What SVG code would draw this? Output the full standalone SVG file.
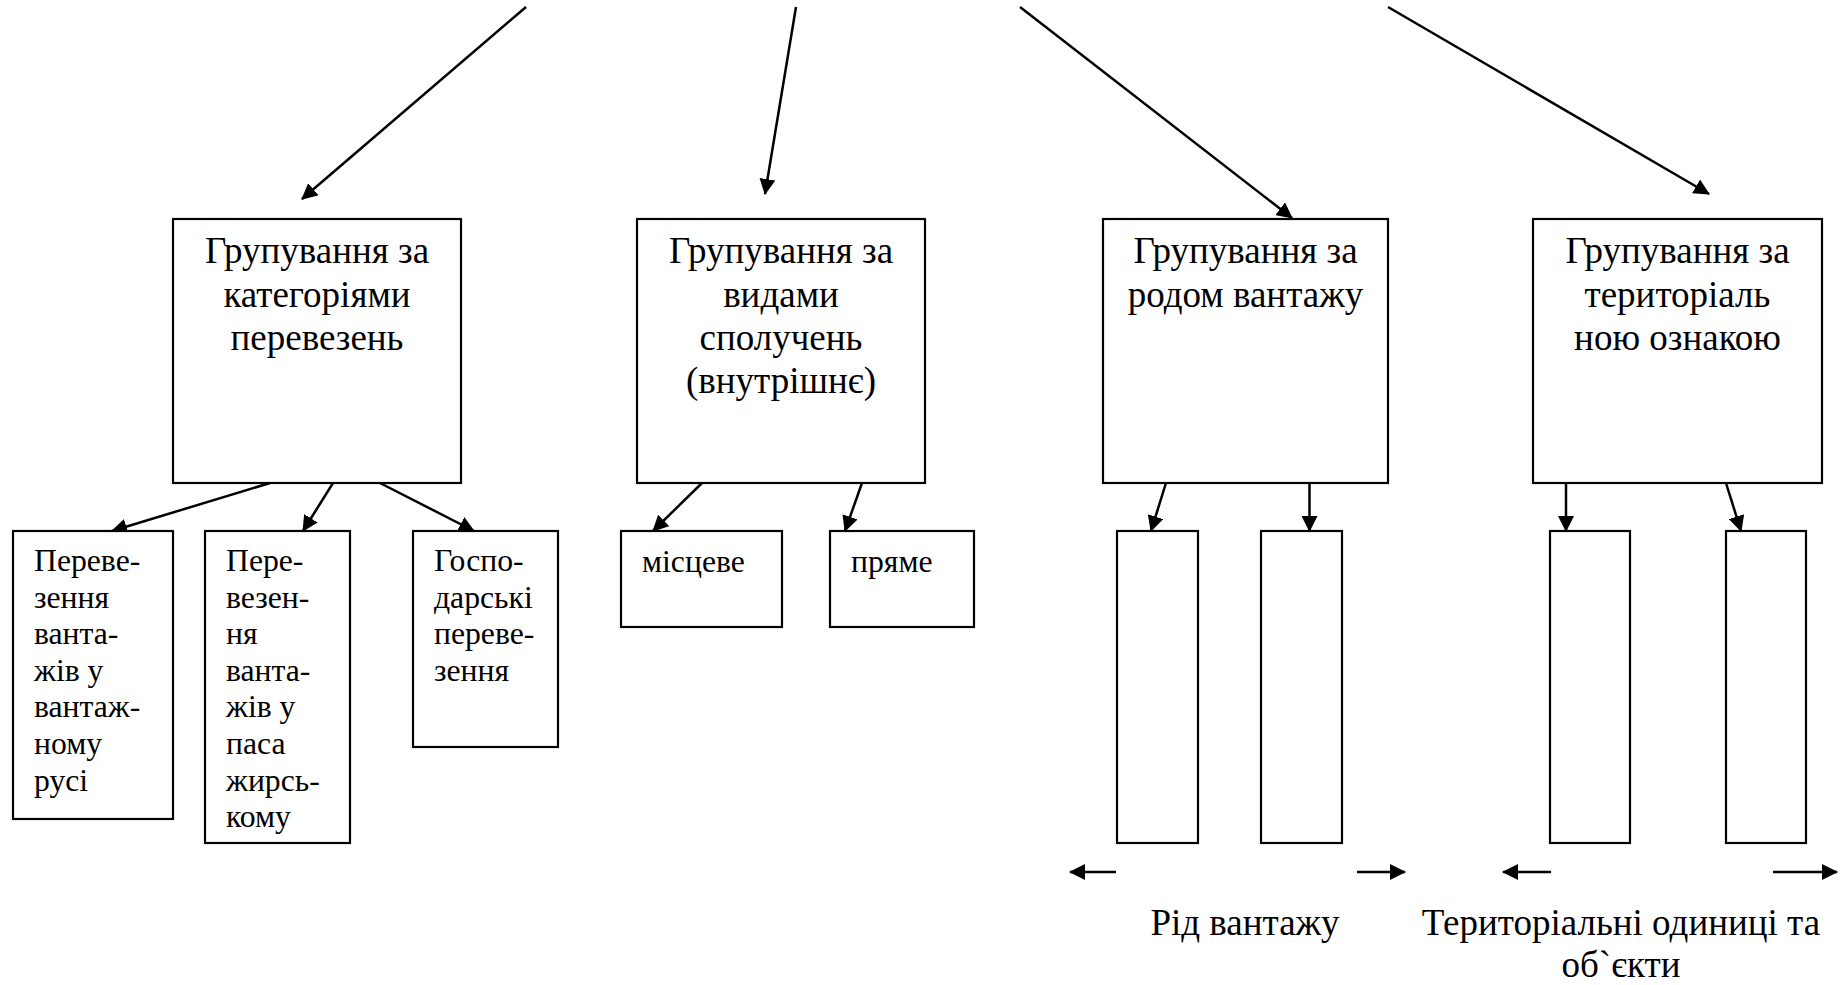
<svg xmlns="http://www.w3.org/2000/svg" width="1845" height="985" viewBox="0 0 1845 985">
<style>
.bx{fill:#fff;stroke:#000;stroke-width:2.2}
.c line{stroke:#000;stroke-width:2.5;marker-end:url(#ah)}
.big{font-size:37px;text-anchor:middle}
.sm{font-size:31.7px}
</style>
<defs>
<marker id="ah" viewBox="0 0 16 16" markerWidth="16" markerHeight="16" refX="15" refY="8" orient="auto" markerUnits="userSpaceOnUse">
<path d="M0,0 L16,8 L0,16 z" fill="#000"/>
</marker>
</defs>
<rect width="1845" height="985" fill="#fff"/>
<g class="c" id="connectors">
<line x1="526" y1="7" x2="302" y2="199"/>
<line x1="796" y1="7" x2="765" y2="194"/>
<line x1="1020" y1="7" x2="1292" y2="218"/>
<line x1="1388" y1="7" x2="1709" y2="194"/>
<line x1="270" y1="483" x2="112" y2="531"/>
<line x1="333" y1="483" x2="303" y2="531"/>
<line x1="380" y1="483" x2="474" y2="531"/>
<line x1="702" y1="483" x2="653" y2="531"/>
<line x1="862" y1="483" x2="845" y2="531"/>
<line x1="1166" y1="483" x2="1151" y2="531"/>
<line x1="1309.5" y1="483" x2="1309.5" y2="531"/>
<line x1="1566" y1="483" x2="1566" y2="531"/>
<line x1="1726" y1="483" x2="1741" y2="531"/>
<line x1="1116" y1="872" x2="1070" y2="872"/>
<line x1="1357" y1="872" x2="1405" y2="872"/>
<line x1="1551" y1="872" x2="1503" y2="872"/>
<line x1="1773" y1="872" x2="1837" y2="872"/>
</g>
<g font-family="Liberation Serif, Times New Roman, serif" fill="#000">
<g id="b1"><rect class="bx" x="173" y="219" width="288" height="264"/>
<text class="big" x="317" y="263">Групування за</text>
<text class="big" x="317" y="307">категоріями</text>
<text class="big" x="317" y="350">перевезень</text></g>
<g id="b2"><rect class="bx" x="637" y="219" width="288" height="264"/>
<text class="big" x="781" y="263">Групування за</text>
<text class="big" x="781" y="307">видами</text>
<text class="big" x="781" y="350">сполучень</text>
<text class="big" x="781" y="393">(внутрішнє)</text></g>
<g id="b3"><rect class="bx" x="1103" y="219" width="285" height="264"/>
<text class="big" x="1245.5" y="263">Групування за</text>
<text class="big" x="1245.5" y="307">родом вантажу</text></g>
<g id="b4"><rect class="bx" x="1533" y="219" width="289" height="264"/>
<text class="big" x="1677.5" y="263">Групування за</text>
<text class="big" x="1677.5" y="307">територіаль</text>
<text class="big" x="1677.5" y="350">ною ознакою</text></g>
<g id="s1"><rect class="bx" x="13" y="531" width="160" height="288"/>
<text class="sm" x="34"><tspan x="34" y="571">Переве-</tspan><tspan x="34" y="608">зення</tspan><tspan x="34" y="644">ванта-</tspan><tspan x="34" y="681">жів у</tspan><tspan x="34" y="717">вантаж-</tspan><tspan x="34" y="754">ному</tspan><tspan x="34" y="791">русі</tspan></text></g>
<g id="s2"><rect class="bx" x="205" y="531" width="145" height="312"/>
<text class="sm" x="226"><tspan x="226" y="571">Пере-</tspan><tspan x="226" y="608">везен-</tspan><tspan x="226" y="644">ня</tspan><tspan x="226" y="681">ванта-</tspan><tspan x="226" y="717">жів у</tspan><tspan x="226" y="754">паса</tspan><tspan x="226" y="791">жирсь-</tspan><tspan x="226" y="827">кому</tspan></text></g>
<g id="s3"><rect class="bx" x="413" y="531" width="145" height="216"/>
<text class="sm" x="434"><tspan x="434" y="571">Госпо-</tspan><tspan x="434" y="608">дарські</tspan><tspan x="434" y="644">переве-</tspan><tspan x="434" y="681">зення</tspan></text></g>
<g id="m1"><rect class="bx" x="621" y="531" width="161" height="96"/>
<text class="sm" x="642" y="572">місцеве</text></g>
<g id="m2"><rect class="bx" x="830" y="531" width="144" height="96"/>
<text class="sm" x="851" y="572">пряме</text></g>
<g id="t1"><rect class="bx" x="1117" y="531" width="81" height="312"/></g>
<g id="t2"><rect class="bx" x="1261" y="531" width="81" height="312"/></g>
<g id="t3"><rect class="bx" x="1550" y="531" width="80" height="312"/></g>
<g id="t4"><rect class="bx" x="1726" y="531" width="80" height="312"/></g>
<g id="l1"><text class="big" x="1245" y="935">Рід вантажу</text></g>
<g id="l2"><text class="big" x="1621" y="935">Територіальні одиниці та</text>
<text class="big" x="1621" y="977">об`єкти</text></g>
</g>
</svg>
